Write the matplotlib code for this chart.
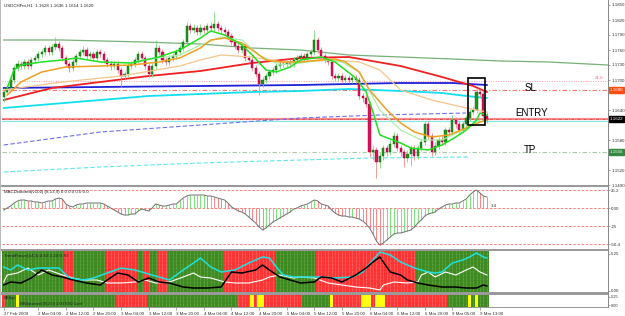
import matplotlib
matplotlib.use("Agg")
import matplotlib.pyplot as plt
from matplotlib.patches import Rectangle
import numpy as np

W, H = 625, 316

# ---------------- data ----------------
bars = list(range(141))
opens = [1.1666,1.1676,1.1684,1.1700,1.1724,1.1732,1.1728,1.1736,1.1728,1.1740,
         1.1744,1.1752,1.1756,1.1764,1.1756,1.1766,1.1772,1.1764,1.1744,1.1732,
         1.1724,1.1736,1.1748,1.1756,1.1760,1.1748,1.1752,1.1744,1.1756,1.1752,
         1.1740,1.1732,1.1728,1.1732,1.1720,1.1708,1.1712,1.1728,1.1732,1.1740,
         1.1752,1.1744,1.1728,1.1712,1.1728,1.1764,1.1756,1.1740,1.1736,1.1744,
         1.1748,1.1756,1.1764,1.1776,1.1808,1.1800,1.1804,1.1796,1.1804,1.1800,
         1.1808,1.1804,1.1812,1.1804,1.1800,1.1796,1.1788,1.1776,1.1768,1.1760,
         1.1768,1.1744,1.1740,1.1724,1.1712,1.1692,1.1700,1.1708,1.1716,1.1720,
         1.1728,1.1732,1.1732,1.1736,1.1732,1.1740,1.1744,1.1748,1.1744,1.1752,
         1.1756,1.1780,1.1760,1.1748,1.1740,1.1736,1.1708,1.1704,1.1708,1.1700,
         1.1704,1.1700,1.1704,1.1700,1.1668,1.1664,1.1652,1.1556,1.1560,1.1536,
         1.1548,1.1564,1.1556,1.1572,1.1588,1.1564,1.1556,1.1544,1.1552,1.1564,
         1.1548,1.1564,1.1576,1.1612,1.1588,1.1556,1.1568,1.1580,1.1576,1.1600,
         1.1596,1.1620,1.1612,1.1600,1.1612,1.1624,1.1636,1.1640,1.1676,1.1672,
         1.1628]
closes = [1.1676,1.1684,1.1700,1.1724,1.1732,1.1728,1.1736,1.1728,1.1740,1.1744,
          1.1752,1.1756,1.1764,1.1756,1.1766,1.1772,1.1764,1.1744,1.1732,1.1724,
          1.1736,1.1748,1.1756,1.1760,1.1748,1.1752,1.1744,1.1756,1.1752,1.1740,
          1.1732,1.1728,1.1732,1.1720,1.1708,1.1712,1.1728,1.1732,1.1740,1.1752,
          1.1744,1.1728,1.1712,1.1728,1.1764,1.1756,1.1740,1.1736,1.1744,1.1748,
          1.1756,1.1764,1.1776,1.1808,1.1800,1.1804,1.1796,1.1804,1.1800,1.1808,
          1.1804,1.1812,1.1804,1.1800,1.1796,1.1788,1.1776,1.1768,1.1760,1.1768,
          1.1744,1.1740,1.1724,1.1712,1.1692,1.1700,1.1708,1.1716,1.1720,1.1728,
          1.1732,1.1732,1.1736,1.1732,1.1740,1.1744,1.1748,1.1744,1.1752,1.1756,
          1.1780,1.1760,1.1748,1.1740,1.1736,1.1708,1.1704,1.1708,1.1700,1.1704,
          1.1700,1.1704,1.1700,1.1668,1.1664,1.1652,1.1556,1.1560,1.1536,1.1548,
          1.1564,1.1556,1.1572,1.1588,1.1564,1.1556,1.1544,1.1552,1.1564,1.1548,
          1.1564,1.1576,1.1612,1.1588,1.1556,1.1568,1.1580,1.1576,1.1600,1.1596,
          1.1620,1.1612,1.1600,1.1612,1.1624,1.1636,1.1640,1.1676,1.1672,1.1628,
          1.1620]
highs = [1.1684,1.1690,1.1706,1.1730,1.1740,1.1738,1.1742,1.1742,1.1746,1.1750,
         1.1758,1.1762,1.1770,1.1770,1.1772,1.1786,1.1778,1.1770,1.1750,1.1738,
         1.1742,1.1754,1.1762,1.1768,1.1766,1.1758,1.1758,1.1762,1.1762,1.1758,
         1.1746,1.1738,1.1738,1.1738,1.1726,1.1718,1.1734,1.1738,1.1746,1.1758,
         1.1758,1.1750,1.1734,1.1734,1.1780,1.1770,1.1762,1.1746,1.1750,1.1754,
         1.1762,1.1770,1.1782,1.1816,1.1814,1.1812,1.1810,1.1812,1.1810,1.1814,
         1.1816,1.1836,1.1818,1.1810,1.1806,1.1802,1.1794,1.1782,1.1774,1.1774,
         1.1774,1.1750,1.1746,1.1730,1.1718,1.1706,1.1714,1.1722,1.1726,1.1734,
         1.1738,1.1738,1.1742,1.1742,1.1746,1.1750,1.1754,1.1754,1.1758,1.1762,
         1.1800,1.1786,1.1766,1.1754,1.1746,1.1742,1.1714,1.1714,1.1714,1.1710,
         1.1710,1.1710,1.1710,1.1706,1.1674,1.1670,1.1658,1.1570,1.1566,1.1556,
         1.1570,1.1570,1.1580,1.1596,1.1594,1.1570,1.1562,1.1560,1.1570,1.1570,
         1.1570,1.1582,1.1618,1.1618,1.1594,1.1576,1.1586,1.1588,1.1606,1.1606,
         1.1630,1.1626,1.1618,1.1618,1.1630,1.1642,1.1648,1.1684,1.1682,1.1678,
         1.1636]
lows = [1.1656,1.1670,1.1678,1.1694,1.1718,1.1722,1.1722,1.1722,1.1722,1.1734,
        1.1738,1.1746,1.1750,1.1750,1.1750,1.1760,1.1758,1.1738,1.1726,1.1716,
        1.1718,1.1730,1.1742,1.1750,1.1742,1.1742,1.1738,1.1738,1.1746,1.1734,
        1.1726,1.1720,1.1722,1.1714,1.1686,1.1700,1.1706,1.1722,1.1726,1.1734,
        1.1738,1.1722,1.1706,1.1706,1.1722,1.1750,1.1734,1.1730,1.1730,1.1738,
        1.1742,1.1750,1.1758,1.1770,1.1794,1.1794,1.1790,1.1790,1.1794,1.1794,
        1.1798,1.1798,1.1798,1.1794,1.1790,1.1782,1.1770,1.1762,1.1754,1.1754,
        1.1738,1.1734,1.1718,1.1706,1.1670,1.1686,1.1694,1.1702,1.1710,1.1714,
        1.1722,1.1726,1.1726,1.1726,1.1726,1.1734,1.1738,1.1738,1.1738,1.1746,
        1.1750,1.1754,1.1742,1.1734,1.1730,1.1702,1.1698,1.1698,1.1694,1.1694,
        1.1694,1.1694,1.1694,1.1662,1.1656,1.1646,1.1546,1.1540,1.1504,1.1524,
        1.1540,1.1548,1.1550,1.1566,1.1558,1.1548,1.1526,1.1536,1.1528,1.1540,
        1.1542,1.1558,1.1570,1.1582,1.1548,1.1550,1.1562,1.1570,1.1570,1.1588,
        1.1590,1.1604,1.1594,1.1594,1.1606,1.1618,1.1630,1.1634,1.1666,1.1620,
        1.1614]

# moving-average style lines (bar index, price)
ma_red_bars = [0, 14, 28, 42, 57, 72, 86, 100, 115, 127, 136, 140]
ma_red_vals = [1.1660,1.1684,1.1696,1.1708,1.1718,1.1734,1.1744,1.1746,1.1728,1.1706,1.1688,1.1676]
ma_blue_bars = [0, 28, 57, 86, 100, 115, 130, 140]
ma_blue_vals = [1.1684,1.1686,1.1688,1.1690,1.1692,1.1694,1.1694,1.1690]
ma_cyan_bars = [0, 14, 28, 42, 57, 72, 86, 100, 115, 127, 134, 140]
ma_cyan_vals = [1.1644,1.1652,1.1660,1.1668,1.1672,1.1676,1.1678,1.1682,1.1678,1.1674,1.1668,1.1664]
ma_sage_bars = [0, 17, 40, 57, 72, 86, 100, 115, 130, 144, 158, 175]
ma_sage_vals = [1.1780,1.1780,1.1776,1.1772,1.1764,1.1760,1.1750,1.1746,1.1742,1.1738,1.1736,1.1730]
ma_fast_bars = [1,3,5,11,17,21,28,37,45,51,57,60,64,69,72,76,79,83,86,92,96,99,102,105,107,109,115,118,123,127,131,134,137,138,140]
ma_fast_vals = [1.1684,1.1720,1.1730,1.1736,1.1740,1.1744,1.1736,1.1734,1.1746,1.1760,1.1784,1.1798,1.1790,1.1770,
                1.1750,1.1720,1.1716,1.1726,1.1740,1.1746,1.1736,1.1720,1.1704,1.1676,1.1636,1.1590,1.1574,1.1564,
                1.1560,1.1570,1.1586,1.1600,1.1620,1.1634,1.1630]
ma_orange_bars = [1,5,11,18,28,37,45,51,57,60,64,69,72,76,80,86,92,96,99,103,106,111,115,119,124,129,134,138,140]
ma_orange_vals = [1.1670,1.1696,1.1716,1.1726,1.1728,1.1730,1.1736,1.1744,1.1764,1.1780,1.1784,1.1774,1.1760,1.1740,
                  1.1736,1.1736,1.1740,1.1742,1.1736,1.1716,1.1680,1.1640,1.1614,1.1596,1.1586,1.1590,1.1604,1.1616,1.1620]
ma_tan_bars = [0,17,34,51,57,63,72,81,86,95,103,109,115,124,134,140]
ma_tan_vals = [1.1680,1.1696,1.1708,1.1728,1.1740,1.1750,1.1746,1.1736,1.1736,1.1740,1.1736,1.1720,1.1680,1.1660,1.1644,1.1636]
ma_pale_bars = [40,51,57,63,69,74,80,86,92,98,103,109,115,121,127,132,138]
ma_pale_vals = [1.1740,1.1750,1.1770,1.1786,1.1780,1.1750,1.1730,1.1734,1.1740,1.1736,1.1716,1.1640,1.1600,1.1580,1.1580,1.1596,1.1620]
env_blue_bars = [0, 28, 57, 86, 109, 134]
env_blue_vals = [1.1570,1.1596,1.1610,1.1624,1.1630,1.1634]
env_cyan_bars = [0, 28, 57, 86, 106, 135]
env_cyan_vals = [1.1516,1.1526,1.1534,1.1540,1.1544,1.1546]

level_pink = 1.1698
level_sl = 1.1680
level_entry = 1.1622
level_entry2 = 1.1618
level_tp = 1.1556
box_x0, box_x1 = 134.6, 139.4
box_lo, box_hi = 1.1610, 1.1704
price_ticks = [1.1850,1.1820,1.1790,1.1760,1.1730,1.1700,1.1640,1.1580,1.1520,1.1490]

macd = [-2.8,0,2.8,7,9.8,11.2,11.2,9.8,9.8,8.4,
        8.4,7,8.4,9.8,9.8,12.6,14,12.6,5.6,2.8,
        1.4,4.2,5.6,5.6,7,7,7,7,7,5.6,
        2.8,0,-2.8,-5.6,-8.4,-9.8,-9.8,-8.4,-8.4,-4.2,
        -1.4,-2.8,-4.2,0,5.6,4.2,2.8,2.8,4.2,5.6,
        5.6,9.8,14,16.8,18.2,18.2,18.2,18.2,18.2,16.8,
        16.8,15.4,14,12.6,11.2,7,1.4,-1.4,-4.2,-5.6,
        -8.4,-12.6,-16.8,-21,-26.6,-30.8,-28,-23.8,-19.6,-16.8,
        -14,-11.2,-8.4,-5.6,-1.4,0,2.8,4.2,5.6,8.4,
        11.2,9.8,5.6,4.2,2.8,-2.8,-7,-9.8,-11.2,-11.2,
        -12.6,-12.6,-14,-15.4,-18.2,-22.4,-28,-36.4,-46.2,-51.8,
        -49,-44.8,-40.6,-36.4,-35,-35,-33.6,-32.2,-30.8,-26.6,
        -21,-16.8,-11.2,-8.4,-7,-5.6,-1.4,1.4,4.2,5.6,
        5.6,7,7,9.8,12.6,18.2,22.4,25.2,21,16.8,
        15.4]
macd_levels = [25.2, 0.0, -25.2, -50.4]
macd_labels = ["25.2", "0.00", "-25", "-50.4"]

trend_state = ("GGGGGGGGGG" "GGGGGGGGRR" "RGGGGGGGGG" "RRRRRRRRRG" "GRRGGRRRGG"
               "GGGGGGGGGG" "GGGGRRRRRR" "RRRRRRRRRG" "GGGGGGGGGG" "GRRRRRRRRR"
               "RRRRRRRRRR" "RRRRRRRRRR" "GGGGGGGGGG" "GGGGGGGGGG" "G")
osc_cyan_bars = [0,2,4,7,10,13,16,19,23,26,30,34,38,41,45,48,52,55,57,60,63,67,71,75,77,79,81,84,88,92,96,101,104,107,109,112,115,119,123,125,127,130,133,135,137,139,140]
osc_cyan_vals = [3.36,2.94,3.64,2.94,3.22,3.22,3.22,1.82,1.54,1.82,2.52,3.22,2.94,2.52,1.96,1.54,2.94,3.92,4.62,3.36,2.66,2.94,3.92,4.76,4.62,3.36,2.24,1.96,1.96,1.96,1.82,1.96,2.66,4.34,5.46,5.04,4.06,3.22,2.66,2.52,2.66,3.92,4.34,4.76,5.32,4.76,4.62]
osc_white_bars = [0,1,4,7,10,13,17,20,23,27,30,34,38,41,44,48,52,55,57,60,64,67,71,75,77,80,84,86,90,94,98,102,106,109,110,113,117,120,121,123,125,128,131,134,136,138,140]
osc_white_vals = [1.26,2.24,2.52,3.22,2.24,2.94,2.24,1.82,1.54,1.54,1.12,1.12,1.26,1.54,1.12,1.26,1.96,2.52,1.96,1.82,1.26,1.12,1.12,1.54,1.96,2.24,1.82,1.96,1.82,1.12,0.84,0.56,0.42,0.14,0.84,1.26,1.12,1.26,2.24,2.66,1.96,2.66,2.24,2.94,3.36,2.66,2.24]
osc_black_bars = [0,2,5,8,11,14,17,20,24,28,30,33,36,39,42,45,48,52,55,59,63,66,69,73,75,77,80,83,86,90,92,95,98,102,105,107,109,110,112,115,117,120,123,127,131,134,137,139,140]
osc_black_vals = [0.84,1.26,1.12,1.82,2.94,2.24,1.96,1.54,1.12,0.84,1.54,2.52,2.24,1.26,1.82,1.26,1.12,0.56,0.42,0.42,0.56,2.66,2.52,2.94,3.64,2.94,1.96,1.54,1.12,1.26,1.96,1.82,1.26,2.24,3.22,4.06,4.76,4.06,2.66,2.24,1.54,1.12,0.84,0.56,0.56,0.42,0.42,0.84,0.70]

squeeze_state = ("RGGGYGGGGG" "GGGGGGGGGG" "GGGGGGGGGG" "GGGRRRRRRR" "RRGGGGGGGG"
                 "GGGGGGGGGG" "GGGGGGGGRR" "RRYRYYRRRR" "RRRRRRRGGG" "GGGGGYRRRR"
                 "RRRRYYYRYY" "YRRRRRRRRR" "RRRRRRRRRG" "GGGGGYGYGG" "G")

time_tick_bars = [0,10,18,26,34,42,50,58,66,74,82,90,98,106,114,122,130,138]
time_labels = ["27 Feb 2009","2 Mar 04:00","2 Mar 12:00","2 Mar 20:00","3 Mar 04:00","3 Mar 12:00",
               "3 Mar 20:00","4 Mar 04:00","4 Mar 12:00","4 Mar 20:00","5 Mar 04:00","5 Mar 12:00",
               "5 Mar 20:00","6 Mar 04:00","6 Mar 12:00","6 Mar 20:00","9 Mar 05:00","9 Mar 13:00"]

# ---------------- layout helpers ----------------
def px_rect(x0, y0, x1, y1):
    return [x0 / W, 1 - y1 / H, (x1 - x0) / W, (y1 - y0) / H]

def px_box(fig, x0, y0, x1, y1, color):
    r = Rectangle((x0 / W, 1 - y1 / H), (x1 - x0) / W, (y1 - y0) / H,
                  transform=fig.transFigure, facecolor=color, edgecolor='none', zorder=10)
    fig.add_artist(r)

plt.rcParams['font.family'] = ['Liberation Sans', 'DejaVu Sans']
SMALL = 3.2
fig = plt.figure(figsize=(W / 100, H / 100), dpi=100)
fig.patch.set_facecolor('white')

ax = fig.add_axes(px_rect(2, 1, 608, 185))
ax2 = fig.add_axes(px_rect(2, 187, 608, 249))
ax3 = fig.add_axes(px_rect(2, 251, 608, 292))
ax4 = fig.add_axes(px_rect(2, 295, 608, 307))
XLIM = (-0.5, 175.1)
for a in (ax, ax2, ax3, ax4):
    a.set_xlim(*XLIM)
    a.set_facecolor('white')
    for s in a.spines.values():
        s.set_visible(False)
    a.tick_params(axis='x', bottom=False, labelbottom=False)
    a.yaxis.tick_right()
    a.tick_params(axis='y', length=1.5, width=0.5, colors='#808080', labelsize=SMALL,
                  labelcolor='#333333', pad=0.8)

# ---------------- main price panel ----------------
x = np.array(bars, dtype=float)
o = np.array(opens); c = np.array(closes); hi = np.array(highs); lo = np.array(lows)
up = c >= o
ax.set_ylim(1.1490, 1.1858)

ax.axhline(level_pink, color='#ff9aa8', lw=0.7, ls=(0, (1, 1.5)), zorder=1)
ax.axhline(level_sl, color='#ff7070', lw=0.8, ls=(0, (4, 2, 1, 2)), zorder=1)
ax.axhline(level_entry, color='#ff8a8a', lw=1.6, zorder=1)
ax.axhline(level_entry, color='#c04040', lw=0.5, ls=(0, (4, 2, 1, 2)), zorder=1)
ax.axhline(level_entry2, color='#7fe8e8', lw=0.8, zorder=1)
ax.axhline(level_tp, color='#a8cca8', lw=0.8, ls=(0, (4, 2, 1, 2)), zorder=1)

ax.plot(env_blue_bars, env_blue_vals, color='#7070f0', lw=0.8, ls=(0, (4, 2)), zorder=2)
ax.plot(env_cyan_bars, env_cyan_vals, color='#60e8e8', lw=0.8, ls=(0, (4, 2)), zorder=2)
ax.plot(ma_sage_bars, ma_sage_vals, color='#78b078', lw=0.9, zorder=2)
ax.plot(ma_cyan_bars, ma_cyan_vals, color='#10e0f0', lw=1.3, zorder=2)
ax.plot(ma_blue_bars, ma_blue_vals, color='#2020d8', lw=1.3, zorder=2)
ax.plot(ma_red_bars, ma_red_vals, color='#f02020', lw=1.3, zorder=2)

ax.vlines(x[up], lo[up], hi[up], color='#7ad87a', lw=0.6, zorder=3)
ax.vlines(x[~up], lo[~up], hi[~up], color='#f08a8a', lw=0.6, zorder=3)
ax.bar(x[up], c[up] - o[up], bottom=o[up], width=0.62, color='#1a9a1a',
       edgecolor='#0b5d0b', lw=0.3, zorder=3)
ax.bar(x[~up], o[~up] - c[~up], bottom=c[~up], width=0.62, color='#e0105a',
       edgecolor='#a00030', lw=0.3, zorder=3)

ax.plot(ma_tan_bars, ma_tan_vals, color='#f5c58a', lw=0.9, zorder=4)
ax.plot(ma_pale_bars, ma_pale_vals, color='#aaf0aa', lw=0.9, zorder=4)
ax.plot(ma_orange_bars, ma_orange_vals, color='#f0a020', lw=1.1, zorder=4)
ax.plot(ma_fast_bars, ma_fast_vals, color='#20e020', lw=1.1, zorder=5)

ax.add_patch(Rectangle((box_x0, box_lo), box_x1 - box_x0, box_hi - box_lo,
                       fill=False, edgecolor='black', lw=1.2, zorder=6))

ax.text(152.5, level_sl + 0.0004, "SL", fontsize=7, ha='center', va='center')
ax.text(153.0, level_entry + 0.0012, "ENTRY", fontsize=7, ha='center', va='center')
ax.text(152.5, level_tp + 0.0004, "TP", fontsize=7, ha='center', va='center')
ax.text(173.8, level_pink + 0.0003, "21.6", fontsize=SMALL, color='#ff6080', ha='right', va='bottom')

ax.set_yticks(price_ticks)
ax.set_yticklabels([f"{v:.4f}" for v in price_ticks])

def tag(axis, yv, text, fc):
    axis.text(1.0035, yv, text, transform=axis.get_yaxis_transform(), fontsize=SMALL,
              color='white', va='center', ha='left', clip_on=False,
              bbox=dict(boxstyle='square,pad=0.15', fc=fc, ec=fc))

tag(ax, level_sl, f"{level_sl:.4f}", '#ff4a10')
tag(ax, level_entry, f"{level_entry:.4f}", '#000000')
tag(ax, level_tp, f"{level_tp:.4f}", '#2e8b40')

fig.text(4 / W, 1 - 6 / H, f"USDCHFm,H1  {opens[-1]:.4f} {highs[-1]:.4f} {lows[-1]:.4f} {closes[-1]:.4f}",
         fontsize=SMALL, color='#222222', va='center')

# ---------------- MACD panel ----------------
mv = np.array(macd)
ax2.set_ylim(-57.4, 29.4)
for lv in macd_levels:
    ax2.axhline(lv, color='#ff6a6a', lw=0.6, ls=(0, (3, 2)), zorder=1)
rising = np.r_[True, mv[1:] >= mv[:-1]]
ax2.vlines(x[rising], 0, mv[rising], color='#66dd66', lw=0.6, zorder=2)
ax2.vlines(x[~rising], 0, mv[~rising], color='#ff7070', lw=0.6, zorder=2)
ax2.plot(x, mv, color='#707070', lw=0.7, zorder=3)
ax2.set_yticks(macd_levels)
ax2.set_yticklabels(macd_labels)
ax2.text(141.2, 3.0, "3.4", fontsize=SMALL, color='#333333', va='center')
fig.text(4 / W, 1 - 192 / H, "MACDcolored(v102) (8,13,9) 0.0 0.0 0.0 0.0",
         fontsize=SMALL, color='#222222', va='center')

# ---------------- trend panel ----------------
ax3.set_ylim(-0.14, 5.6)
col3 = {'G': '#3f8a22', 'R': '#ff3535'}
dot3 = {'G': '#7fbf5a', 'R': '#ff9090'}
ax3.bar(x, 5.74, bottom=-0.14, width=1.0, color=[col3[s] for s in trend_state],
        edgecolor='none', zorder=1)
ax3.vlines(x, -0.14, 5.6, colors=[dot3[s] for s in trend_state], lw=0.5,
           linestyles=(0, (1, 1)), zorder=2)
ax3.plot(osc_cyan_bars, osc_cyan_vals, color='#20e0e0', lw=1.1, zorder=4)
ax3.plot(osc_white_bars, osc_white_vals, color='#ffffff', lw=0.8, zorder=3)
ax3.plot(osc_black_bars, osc_black_vals, color='#000000', lw=1.1, zorder=4)
ax3.set_yticks([5.25, 0.0])
ax3.set_yticklabels(["5.25", "0.00"])
fig.text(4 / W, 1 - 256 / H, "TrendPower(14,3) 4.62 2.24 0.70",
         fontsize=SMALL, color='#222222', va='center', zorder=20)

# ---------------- squeeze panel ----------------
ax4.set_ylim(0, 1)
col4 = {'G': '#3f8a22', 'R': '#ff3535', 'Y': '#ffff00'}
ax4.bar(x, 1.0, bottom=0, width=1.0, color=[col4[s] for s in squeeze_state],
        edgecolor='none', zorder=1)
ax4.vlines(x, 0, 1, colors=[dot3.get(s, '#ffff80') for s in squeeze_state], lw=0.5,
           linestyles=(0, (1, 1)), zorder=2)
ax4.set_yticks([0.85, 0.15])
ax4.set_yticklabels(["5.25", "0.00"])
ax4.tick_params(axis='y', labelsize=2.9)
fig.text(4 / W, 1 - 298 / H, "BBSqz", fontsize=2.9, color='#222222', va='center', zorder=20)
fig.text(20 / W, 1 - 304 / H, "BBSqueeze(20,2.0) 1.00 0.00 Conf", fontsize=2.9,
         color='#222222', va='center', zorder=20)

ax4.set_xticks(time_tick_bars)
ax4.set_xticklabels(time_labels)
ax4.tick_params(axis='x', bottom=True, labelbottom=True, length=2, width=0.5,
                colors='#808080', labelsize=SMALL, labelcolor='#333333', pad=1.5)
for lab in ax4.get_xticklabels():
    lab.set_horizontalalignment('left')

# ---------------- separators ----------------
px_box(fig, 0, 185, 609, 187, '#9a9a9a')
px_box(fig, 0, 249, 609, 251, '#9a9a9a')
px_box(fig, 0, 292, 609, 295, '#9a9a9a')
px_box(fig, 0, 307, 609, 308, '#9a9a9a')
px_box(fig, 608, 0, 609, 308, '#8a8a8a')
px_box(fig, 0, 0, 1, 308, '#bbbbbb')

fig.savefig("out.png", dpi=100, facecolor='white')
